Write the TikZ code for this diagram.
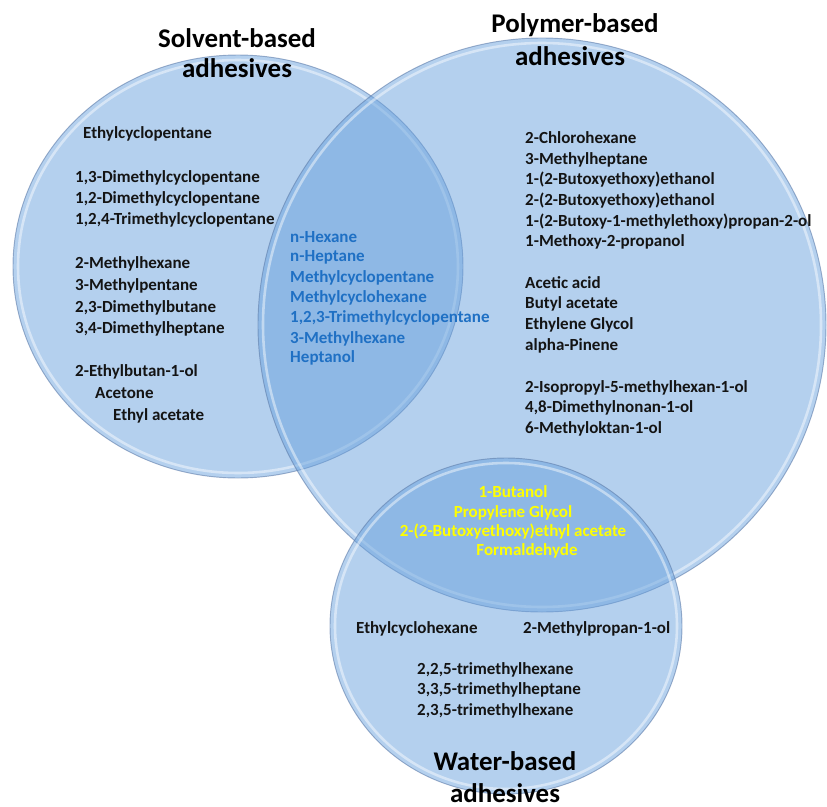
\documentclass[tikz,border=0pt]{standalone}
\usepackage{fontspec}
\setmainfont{Carlito}
\definecolor{circfill}{RGB}{105,161,221}
\definecolor{circedge}{RGB}{95,125,170}
\definecolor{txtblack}{RGB}{20,20,20}
\definecolor{txtblue}{RGB}{31,112,196}
\definecolor{txtyellow}{RGB}{255,255,0}
\begin{document}
\begin{tikzpicture}[x=0.03cm,y=-0.03cm,
  item/.style={anchor=base west,inner sep=0pt,font=\fontsize{14.5}{17}\selectfont\bfseries,text=txtblack},
  blueitem/.style={item,text=txtblue},
  yellowitem/.style={item,anchor=base,text=txtyellow},
  titletext/.style={anchor=base,inner sep=0pt,font=\fontsize{23}{27}\selectfont\bfseries,text=black},
  setfill/.style={fill=circfill,fill opacity=0.5,draw=none},
  setedge/.style={draw=circedge,draw opacity=0.6,line width=0.8pt},
  sethilite/.style={draw=white,draw opacity=0.45,line width=2.2pt}]
\useasboundingbox (0,0) rectangle (827,807);
% sets
\fill[setfill] (238,266.5) ellipse [x radius=225,y radius=211.5];
\draw[setedge] (238,266.5) ellipse [x radius=225,y radius=211.5];
\draw[sethilite] (238,266.5) ellipse [x radius=220,y radius=206.5];
\fill[setfill] (542,325) ellipse [x radius=284,y radius=287];
\draw[setedge] (542,325) ellipse [x radius=284,y radius=287];
\draw[sethilite] (542,325) ellipse [x radius=279,y radius=282];
\fill[setfill] (506,626) ellipse [x radius=176,y radius=168];
\draw[setedge] (506,626) ellipse [x radius=176,y radius=168];
\draw[sethilite] (506,626) ellipse [x radius=171,y radius=163];
% titles
\node[titletext] (t1a) at (237,47) {Solvent-based};
\node[titletext] (t1b) at (237,77) {adhesives};
\node[titletext] (t2a) at (575,32) {Polymer-based};
\node[titletext] (t2b) at (570,65) {adhesives};
\node[titletext] (t3a) at (505,770) {Water-based};
\node[titletext] (t3b) at (505,802) {adhesives};
% solvent only
\node[item] (s1) at (83,138) {Ethylcyclopentane};
\node[item] (s2) at (75,182) {1,3-Dimethylcyclopentane};
\node[item] (s3) at (75,203) {1,2-Dimethylcyclopentane};
\node[item] (s4) at (75,224) {1,2,4-Trimethylcyclopentane};
\node[item] (s5) at (75,268) {2-Methylhexane};
\node[item] (s6) at (75,290) {3-Methylpentane};
\node[item] (s7) at (75,312) {2,3-Dimethylbutane};
\node[item] (s8) at (75,333) {3,4-Dimethylheptane};
\node[item] (s9) at (75,376) {2-Ethylbutan-1-ol};
\node[item] (s10) at (95,398) {Acetone};
\node[item] (s11) at (113,420) {Ethyl acetate};
% solvent and polymer
\node[blueitem] (b1) at (290,242) {n-Hexane};
\node[blueitem] (b2) at (290,261) {n-Heptane};
\node[blueitem] (b3) at (290,282) {Methylcyclopentane};
\node[blueitem] (b4) at (290,302) {Methylcyclohexane};
\node[blueitem] (b5) at (290,322) {1,2,3-Trimethylcyclopentane};
\node[blueitem] (b6) at (290,343) {3-Methylhexane};
\node[blueitem] (b7) at (290,362) {Heptanol};
% polymer only
\node[item] (p1) at (525,143) {2-Chlorohexane};
\node[item] (p2) at (525,164) {3-Methylheptane};
\node[item] (p3) at (525,184) {1-(2-Butoxyethoxy)ethanol};
\node[item] (p4) at (525,205) {2-(2-Butoxyethoxy)ethanol};
\node[item] (p5) at (525,226) {1-(2-Butoxy-1-methylethoxy)propan-2-ol};
\node[item] (p6) at (525,246) {1-Methoxy-2-propanol};
\node[item] (p7) at (525,288) {Acetic acid};
\node[item] (p8) at (525,308) {Butyl acetate};
\node[item] (p9) at (525,329) {Ethylene Glycol};
\node[item] (p10) at (525,350) {alpha-Pinene};
\node[item] (p11) at (525,392) {2-Isopropyl-5-methylhexan-1-ol};
\node[item] (p12) at (525,412) {4,8-Dimethylnonan-1-ol};
\node[item] (p13) at (525,433) {6-Methyloktan-1-ol};
% polymer and water
\node[yellowitem] (y1) at (513,497) {1-Butanol};
\node[yellowitem] (y2) at (513,517) {Propylene Glycol};
\node[yellowitem] (y3) at (513,536) {2-(2-Butoxyethoxy)ethyl acetate};
\node[yellowitem] (y4) at (527,555) {Formaldehyde};
% water only
\node[item] (w1) at (356,633) {Ethylcyclohexane};
\node[item] (w2) at (523,633) {2-Methylpropan-1-ol};
\node[item] (w3) at (417,674) {2,2,5-trimethylhexane};
\node[item] (w4) at (417,694) {3,3,5-trimethylheptane};
\node[item] (w5) at (417,715) {2,3,5-trimethylhexane};
\end{tikzpicture}
\end{document}
